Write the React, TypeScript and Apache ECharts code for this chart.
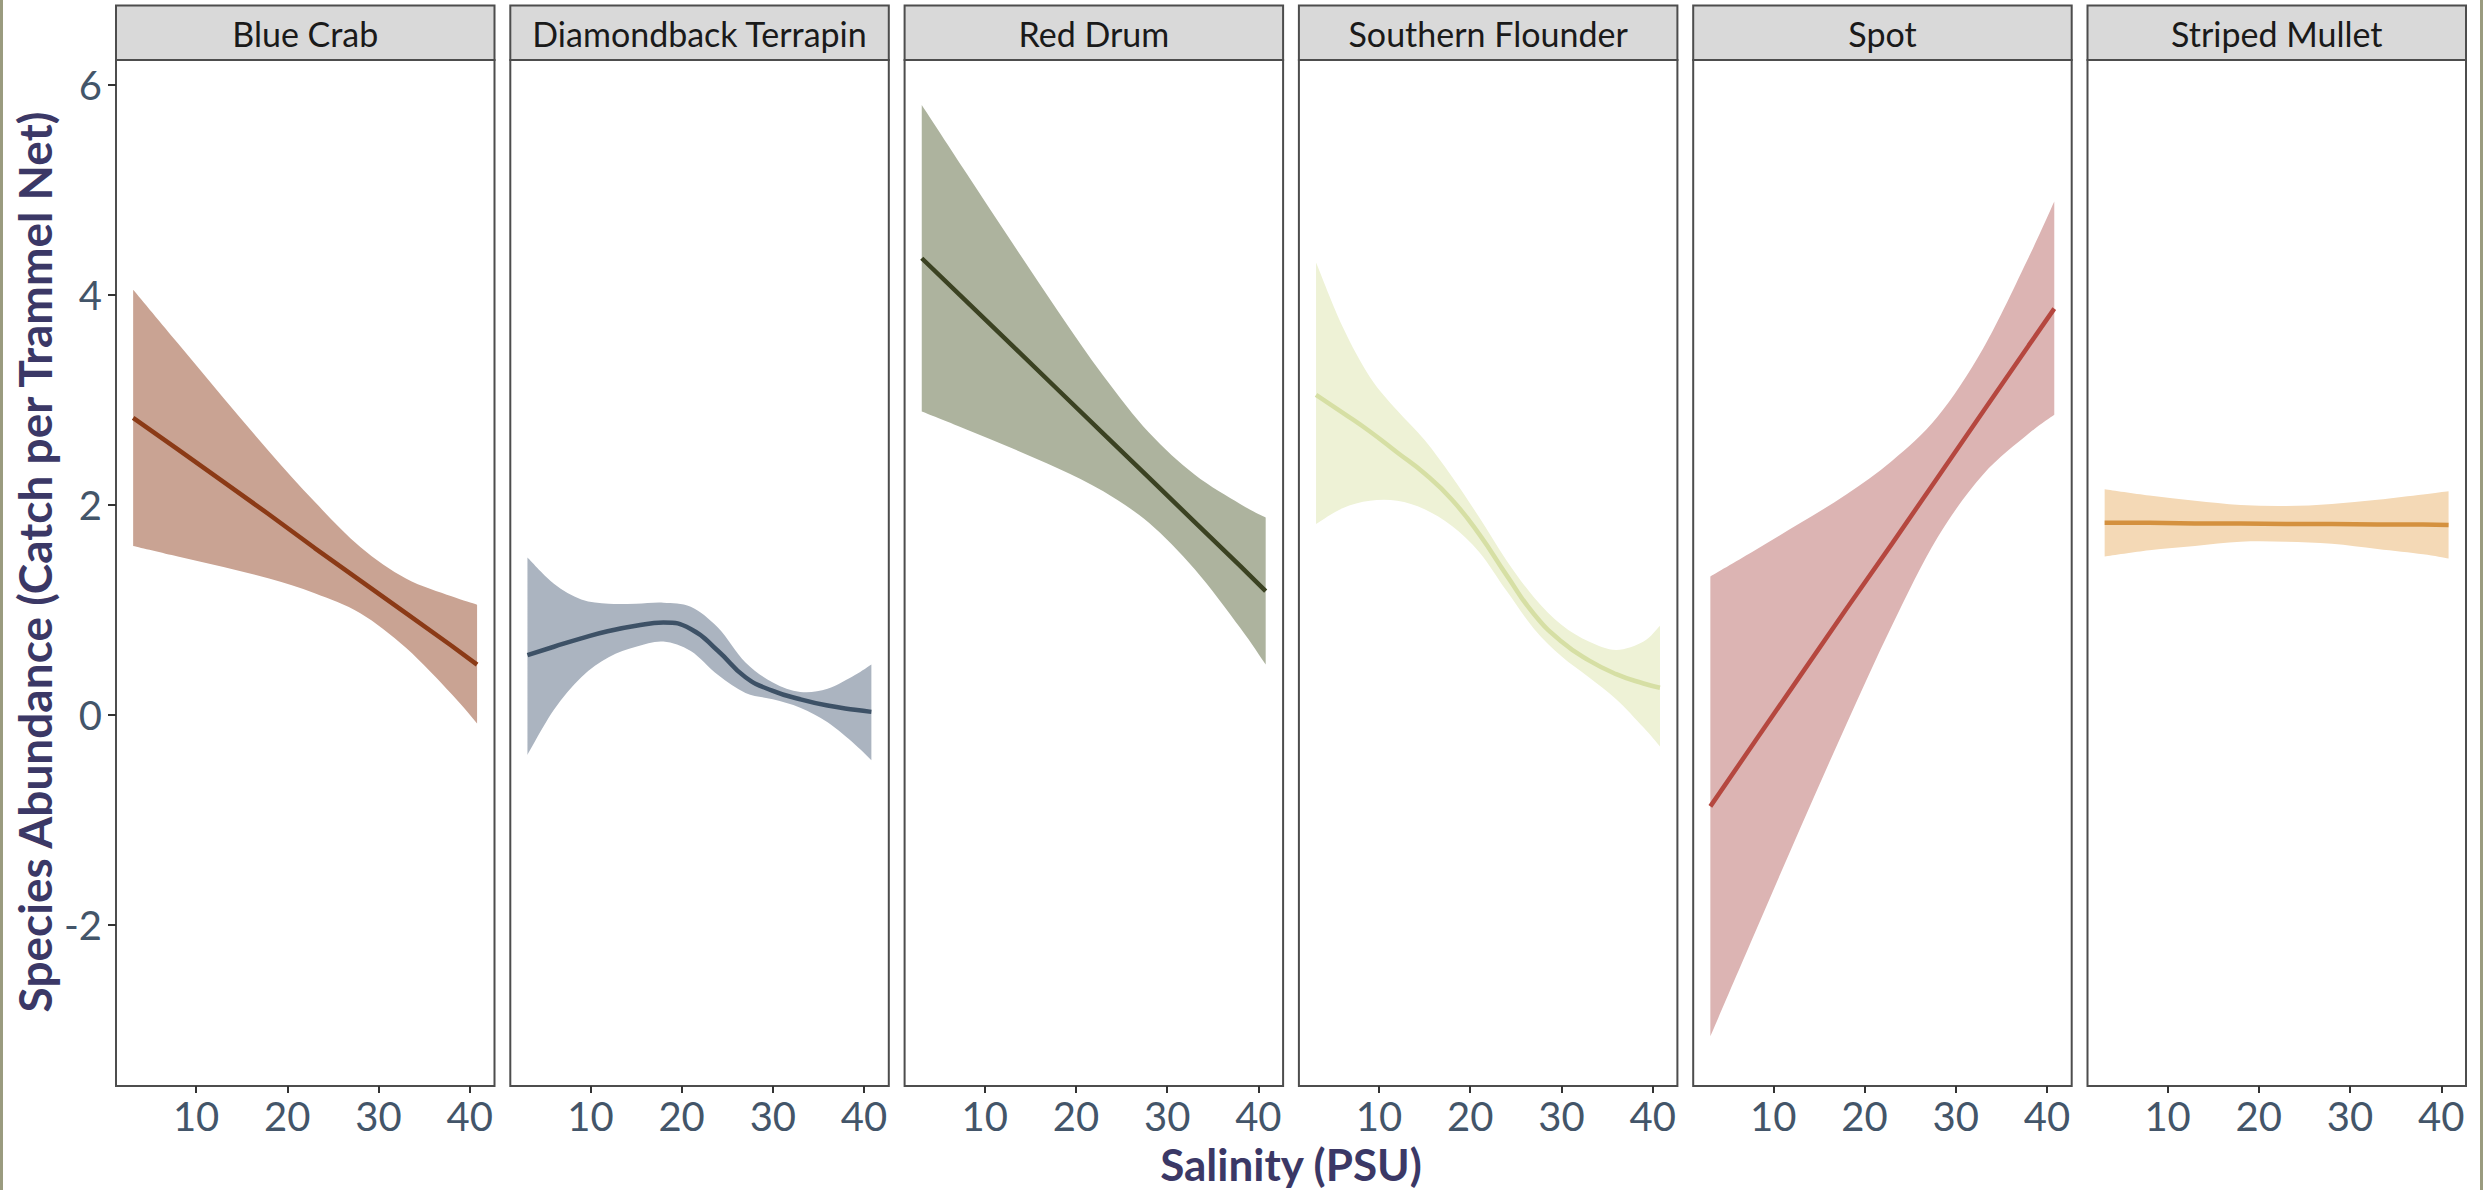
import React, { useEffect, useRef } from 'react';
import * as echarts from 'echarts';

// ---------- data ----------
const panelNames = ['Blue Crab', 'Diamondback Terrapin', 'Red Drum', 'Southern Flounder', 'Spot', 'Striped Mullet'];

const xTicks = [10, 20, 30, 40];
const yTicks = [-2, 0, 2, 4, 6];

// salinity sample positions
const linearX = [3.1, 8, 13, 18, 23, 28, 33, 38, 40.8];
const smoothX = [3.1, 6, 9, 12, 15, 18, 21, 24, 27, 30, 33, 36, 39, 40.8];

const blueCrabFit = [2.83, 2.53, 2.22, 1.91, 1.59, 1.28, 0.97, 0.66, 0.48];
const blueCrabUpper = [4.05, 3.54, 3.02, 2.51, 2.03, 1.6, 1.3, 1.13, 1.05];
const blueCrabLower = [1.61, 1.51, 1.41, 1.3, 1.16, 0.97, 0.64, 0.2, -0.08];

const terrapinFit = [0.57, 0.65, 0.73, 0.8, 0.85, 0.88, 0.82, 0.61, 0.36, 0.23, 0.15, 0.09, 0.05, 0.03];
const terrapinUpper = [1.5, 1.25, 1.1, 1.06, 1.06, 1.07, 1.03, 0.83, 0.5, 0.31, 0.22, 0.25, 0.38, 0.48];
const terrapinLower = [-0.38, 0.05, 0.36, 0.55, 0.65, 0.7, 0.61, 0.38, 0.21, 0.15, 0.07, -0.07, -0.28, -0.43];

const redDrumFit = [4.35, 3.94, 3.52, 3.1, 2.68, 2.26, 1.84, 1.42, 1.18];
const redDrumUpper = [5.81, 5.16, 4.5, 3.85, 3.23, 2.69, 2.29, 2.01, 1.88];
const redDrumLower = [2.89, 2.72, 2.54, 2.35, 2.13, 1.83, 1.39, 0.83, 0.48];

const flounderFit = [3.05, 2.88, 2.7, 2.5, 2.3, 2.05, 1.72, 1.33, 0.96, 0.7, 0.52, 0.39, 0.3, 0.26];
const flounderUpper = [4.31, 3.7, 3.22, 2.9, 2.62, 2.27, 1.88, 1.47, 1.12, 0.86, 0.7, 0.62, 0.7, 0.85];
const flounderLower = [1.82, 1.97, 2.04, 2.04, 1.96, 1.8, 1.55, 1.18, 0.82, 0.56, 0.36, 0.15, -0.12, -0.3];

const spotFit = [-0.87, -0.25, 0.38, 1.01, 1.63, 2.26, 2.89, 3.52, 3.87];
const spotUpper = [1.32, 1.57, 1.83, 2.1, 2.42, 2.84, 3.49, 4.36, 4.89];
const spotLower = [-3.06, -2.07, -1.07, -0.09, 0.85, 1.69, 2.29, 2.68, 2.86];

const mulletFit = [1.83, 1.83, 1.825, 1.825, 1.82, 1.82, 1.815, 1.815, 1.81];
const mulletUpper = [2.15, 2.09, 2.04, 2.0, 1.99, 2.01, 2.05, 2.1, 2.13];
const mulletLower = [1.51, 1.57, 1.61, 1.65, 1.65, 1.63, 1.58, 1.53, 1.49];

const lineColors = ['#8b3a16', '#3d5166', '#3b4222', '#d6dfa4', '#b5473f', '#d4913f'];
const bandColors = ['#c9a393', '#abb4c0', '#adb39e', '#eef2d6', '#dcb4b3', '#f4d9b6'];

// ---------- layout ----------
const W = 2483;
const H = 1190;
const panelLeft0 = 116;
const panelStep = 394.3;
const panelW = 378.5;
const panelTop = 60;
const panelBottom = 1086;
const stripTop = 5.5;
const xMin = 1.22;
const xMax = 42.71;
const yMin = -3.533;
const yMax = 6.238;
const FONT = 'Lato, "Open Sans", sans-serif';

const panels = [
  { xs: linearX, fit: blueCrabFit, hi: blueCrabUpper, lo: blueCrabLower, curved: false },
  { xs: smoothX, fit: terrapinFit, hi: terrapinUpper, lo: terrapinLower, curved: true },
  { xs: linearX, fit: redDrumFit, hi: redDrumUpper, lo: redDrumLower, curved: false },
  { xs: smoothX, fit: flounderFit, hi: flounderUpper, lo: flounderLower, curved: true },
  { xs: linearX, fit: spotFit, hi: spotUpper, lo: spotLower, curved: false },
  { xs: linearX, fit: mulletFit, hi: mulletUpper, lo: mulletLower, curved: false },
];

// Catmull-Rom -> cubic bezier segments through pixel points (drawing helper only)
function crSegments(pts: number[][]): string {
  let s = '';
  for (let k = 0; k < pts.length - 1; k++) {
    const p0 = pts[k - 1] || pts[k];
    const p1 = pts[k];
    const p2 = pts[k + 1];
    const p3 = pts[k + 2] || p2;
    const c1x = p1[0] + (p2[0] - p0[0]) / 6;
    const c1y = p1[1] + (p2[1] - p0[1]) / 6;
    const c2x = p2[0] - (p3[0] - p1[0]) / 6;
    const c2y = p2[1] - (p3[1] - p1[1]) / 6;
    s += ` C ${c1x} ${c1y} ${c2x} ${c2y} ${p2[0]} ${p2[1]}`;
  }
  return s;
}

function buildOption() {
  const grid: any[] = [];
  const xAxis: any[] = [];
  const yAxis: any[] = [];
  const series: any[] = [];
  const graphic: any[] = [];

  panels.forEach((p, i) => {
    const left = panelLeft0 + panelStep * i;
    grid.push({
      left,
      top: panelTop,
      width: panelW,
      height: panelBottom - panelTop,
      show: true,
      borderColor: '#4d4d4d',
      borderWidth: 2,
      backgroundColor: '#ffffff',
    });
    xAxis.push({
      type: 'value',
      gridIndex: i,
      min: xMin,
      max: xMax,
      position: 'bottom',
      axisLine: { show: false, onZero: false },
      splitLine: { show: false },
      axisTick: { show: true, customValues: xTicks, length: 7, lineStyle: { color: '#333333', width: 2 } },
      axisLabel: { show: true, customValues: xTicks, fontSize: 40, color: '#435569', fontFamily: FONT, margin: 10 },
    });
    yAxis.push({
      type: 'value',
      gridIndex: i,
      min: yMin,
      max: yMax,
      position: 'left',
      axisLine: { show: false, onZero: false },
      splitLine: { show: false },
      axisTick: { show: i === 0, customValues: yTicks, length: 8, lineStyle: { color: '#333333', width: 2 } },
      axisLabel: { show: i === 0, customValues: yTicks, fontSize: 40, color: '#435569', fontFamily: FONT, margin: 14 },
    });
    // confidence band
    series.push({
      type: 'custom',
      xAxisIndex: i,
      yAxisIndex: i,
      data: p.xs.map((x, k) => [x, p.lo[k], p.hi[k]]),
      encode: { x: 0, y: [1, 2] },
      silent: true,
      z: 2,
      renderItem: (params: any, api: any) => {
        if (params.dataIndex !== 0) return null;
        const up = p.xs.map((x, k) => api.coord([x, p.hi[k]]));
        const lo = p.xs.map((x, k) => api.coord([x, p.lo[k]])).reverse();
        const d =
          `M ${up[0][0]} ${up[0][1]}` +
          crSegments(up) +
          ` L ${lo[0][0]} ${lo[0][1]}` +
          crSegments(lo) +
          ' Z';
        return { type: 'path', shape: { pathData: d }, style: { fill: bandColors[i], stroke: 'none' } };
      },
    });
    // fitted line
    series.push({
      type: 'line',
      xAxisIndex: i,
      yAxisIndex: i,
      data: p.xs.map((x, k) => [x, p.fit[k]]),
      symbol: 'none',
      smooth: p.curved ? 0.5 : false,
      lineStyle: { color: lineColors[i], width: 4.5 },
      silent: true,
      z: 3,
    });

    // strip
    graphic.push({
      type: 'rect',
      shape: { x: left, y: stripTop, width: panelW, height: panelTop - stripTop },
      style: { fill: '#d9d9d9', stroke: '#4d4d4d', lineWidth: 2 },
      z: 10,
    });
    graphic.push({
      type: 'text',
      x: left + panelW / 2,
      y: (stripTop + panelTop) / 2 + 1,
      style: {
        text: panelNames[i],
        fontSize: 34,
        fontFamily: FONT,
        fill: '#1a1a1a',
        align: 'center',
        verticalAlign: 'middle',
        textAlign: 'center',
        textVerticalAlign: 'middle',
      },
      z: 11,
    });
  });

  // axis titles
  graphic.push({
    type: 'text',
    x: (panelLeft0 + panelLeft0 + panelStep * 5 + panelW) / 2,
    y: 1164,
    style: {
      text: 'Salinity (PSU)',
      fontSize: 44,
      fontWeight: 'bold',
      fontFamily: FONT,
      fill: '#3b3866',
      align: 'center',
      verticalAlign: 'middle',
      textAlign: 'center',
      textVerticalAlign: 'middle',
    },
    z: 11,
  });
  graphic.push({
    type: 'text',
    x: 34,
    y: 562,
    rotation: Math.PI / 2,
    style: {
      text: 'Species Abundance (Catch per Trammel Net)',
      fontSize: 46,
      fontWeight: 'bold',
      fontFamily: FONT,
      fill: '#3b3866',
      align: 'center',
      verticalAlign: 'middle',
      textAlign: 'center',
      textVerticalAlign: 'middle',
    },
    z: 11,
  });
  // outer frame edges
  graphic.push({ type: 'rect', shape: { x: 0, y: 0, width: 3, height: H }, style: { fill: '#9a9b7f' }, z: 12 });
  graphic.push({ type: 'rect', shape: { x: W - 3, y: 0, width: 3, height: H }, style: { fill: '#9a9b7f' }, z: 12 });

  return {
    animation: false,
    backgroundColor: '#ffffff',
    textStyle: { fontFamily: FONT },
    grid,
    xAxis,
    yAxis,
    series,
    graphic,
  };
}

export default function App() {
  const ref = useRef<HTMLDivElement>(null);
  useEffect(() => {
    if (!ref.current) return;
    const chart = echarts.init(ref.current, undefined, { renderer: 'svg', width: W, height: H });
    chart.setOption(buildOption() as any);
    return () => chart.dispose();
  }, []);
  return (
    <div
      ref={ref}
      style={{ position: 'fixed', left: 0, top: 0, width: W, height: H, background: '#ffffff' }}
    />
  );
}
